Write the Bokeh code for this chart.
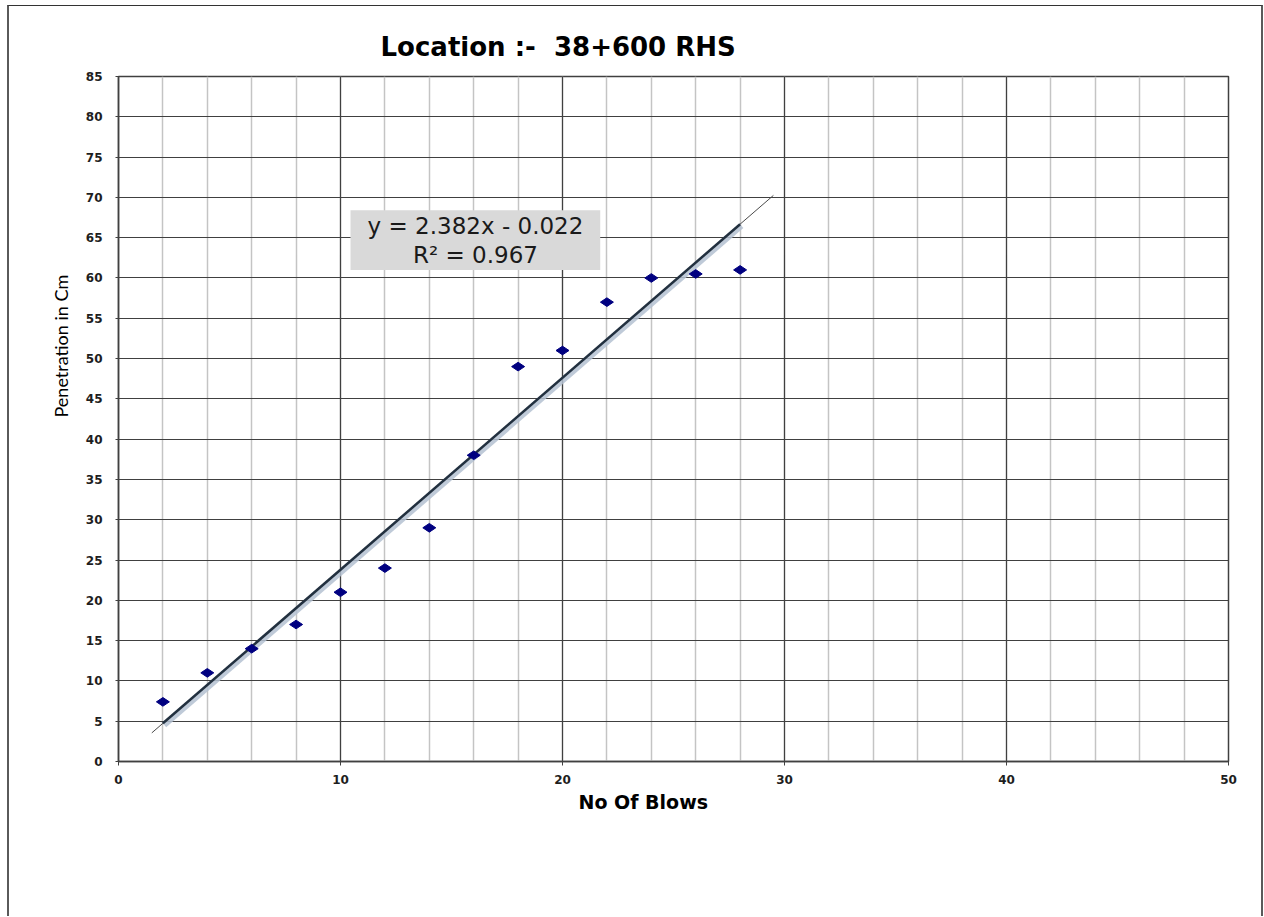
import math
import numpy as np
from bokeh.plotting import figure
from bokeh.models import Range1d, SingleIntervalTicker, Label, BoxAnnotation, Title
from bokeh.embed import file_html
from bokeh.resources import INLINE

# Cone penetration test readings
blows = [2, 4, 6, 8, 10, 12, 14, 16, 18, 20, 22, 24, 26, 28]
penetration = [7.4, 11, 14, 17, 21, 24, 29, 38, 49, 51, 57, 60, 60.5, 61]

# Linear trendline as reported on the chart
slope = 2.382
intercept = -0.022
r_squared = 0.967
forecast_back = 0.5
forecast_fwd = 1.5

# non-breaking space keeps the double gap after ":-"
title_text = "Location :- \u00a038+600 RHS"
x_label = "No Of Blows"
y_label = "Penetration in Cm"

p = figure(
    width=1256, height=911,
    x_range=Range1d(0, 50), y_range=Range1d(0, 85),
    output_backend="svg", toolbar_location=None,
    min_border_left=109, min_border_right=37,
    min_border_top=70, min_border_bottom=156,
)
p.styles = {
    "margin-left": "7px", "margin-top": "5px",
    "border-left": "2px solid #5a5a5a",
    "border-top": "1px solid #333333",
    "border-right": "2px solid #5a5a5a",
}
p.background_fill_color = "white"
p.border_fill_color = "white"
p.outline_line_color = "#404040"
p.outline_line_width = 1.5

# Chart title (left-aligned, offset from the frame edge)
p.title.text = title_text
p.title.align = "left"
p.title.offset = 262
p.title.text_font = "DejaVu Sans"
p.title.text_font_style = "bold"
p.title.text_font_size = "26px"
p.title.text_color = "black"
p.title.standoff = 30

# Axis titles
p.add_layout(Title(text=x_label, align="left", offset=460, standoff=4,
                   text_font="DejaVu Sans", text_font_style="bold",
                   text_font_size="19px", text_color="black"), "below")
p.add_layout(Title(text=y_label, align="left", offset=344, standoff=22,
                   text_font="Lato", text_font_style="normal",
                   text_font_size="18px", text_color="black"), "left")

# Axes and grids
xt = SingleIntervalTicker(interval=10, num_minor_ticks=5)
yt = SingleIntervalTicker(interval=5)
p.xaxis.ticker = xt
p.yaxis.ticker = yt
p.xgrid.ticker = xt
p.ygrid.ticker = yt
p.xgrid.grid_line_color = "#404040"
p.xgrid.grid_line_width = 1.2
p.xgrid.minor_grid_line_color = "#c4c4c4"
p.xgrid.minor_grid_line_width = 1.5
p.ygrid.grid_line_color = "#404040"
p.ygrid.grid_line_width = 1.2

for ax in (p.xaxis, p.yaxis):
    ax.axis_line_color = "#404040"
    ax.axis_line_width = 1.5
    ax.major_tick_line_color = "#404040"
    ax.major_tick_in = 0
    ax.minor_tick_line_color = None
    ax.major_label_text_font = "DejaVu Sans"
    ax.major_label_text_font_style = "bold"
    ax.major_label_text_font_size = "12px"
    ax.major_label_text_color = "#1e1e1e"
p.xaxis.major_tick_out = 4
p.yaxis.major_tick_out = 3
p.xaxis.major_label_standoff = 9
p.yaxis.major_label_standoff = 12

# Trendline: extended thin line, then the fitted segment with a soft shadow
x_ext = np.array([blows[0] - forecast_back, blows[-1] + forecast_fwd])
p.line(x_ext, slope * x_ext + intercept, line_color="#4a4a4a", line_width=1)
x_fit = np.array([blows[0], blows[-1]])
y_fit = slope * x_fit + intercept
p.line(x_fit + 0.06, y_fit - 0.2, line_color="#b4c1d1", line_width=6, line_alpha=0.85)
p.line(x_fit, y_fit, line_color="#22303f", line_width=2.5)

# Readings
p.scatter(blows, penetration, marker="diamond", size=13, angle=math.pi / 2,
          fill_color="#000080", line_color="#000080")

# Trendline equation box
p.add_layout(BoxAnnotation(left=10.45, right=21.7, bottom=61.0, top=68.4,
                           fill_color="#d9d9d9", fill_alpha=1, line_color=None))
eq_sign = "-" if intercept < 0 else "+"
p.add_layout(Label(x=16.08, y=66.4, text=f"y = {slope:.3f}x {eq_sign} {abs(intercept):.3f}",
                   text_align="center", text_baseline="middle",
                   text_font="DejaVu Sans", text_font_size="23px", text_color="#1a1a1a"))
p.add_layout(Label(x=16.08, y=62.9, text=f"R\u00b2 = {r_squared:.3f}",
                   text_align="center", text_baseline="middle",
                   text_font="DejaVu Sans", text_font_size="23px", text_color="#1a1a1a"))

open("out.html", "w").write(file_html(p, INLINE))
